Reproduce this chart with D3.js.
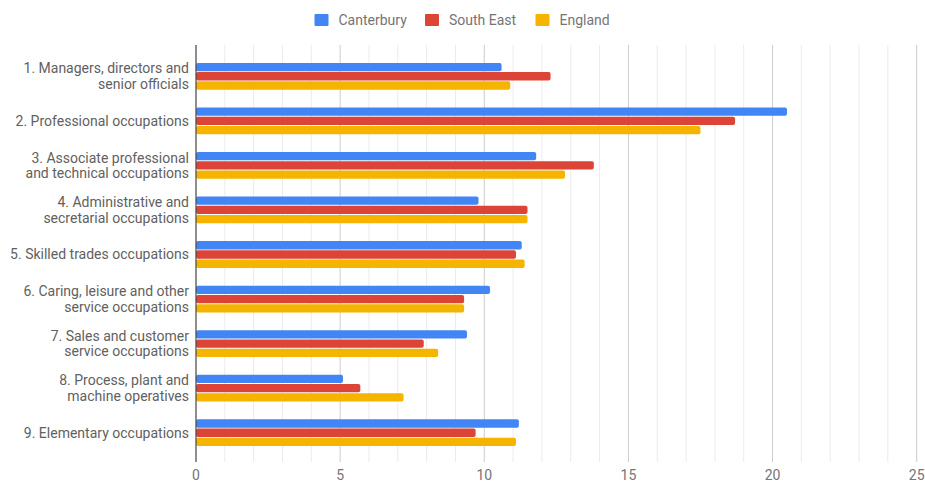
<!DOCTYPE html>
<html>
<head>
<meta charset="utf-8">
<script src="https://cdn.jsdelivr.net/npm/d3@7"></script>
<style>
  body { margin: 0; background: #fff; }
  text { font-family: Roboto, "Noto Sans", sans-serif; }
</style>
</head>
<body>
<div id="chart"></div>
<script>
//Chart data
var categories = [
    ["1. Managers, directors and", "senior officials"],
    ["2. Professional occupations"],
    ["3. Associate professional", "and technical occupations"],
    ["4. Administrative and", "secretarial occupations"],
    ["5. Skilled trades occupations"],
    ["6. Caring, leisure and other", "service occupations"],
    ["7. Sales and customer", "service occupations"],
    ["8. Process, plant and", "machine operatives"],
    ["9. Elementary occupations"]
];
var series = ["Canterbury", "South East", "England"];
var colors = ["#4285f4", "#db4437", "#f4b400"];
var canterbury = [10.6, 20.5, 11.8, 9.8, 11.3, 10.2, 9.4, 5.1, 11.2];
var southEast = [12.3, 18.7, 13.8, 11.5, 11.1, 9.3, 7.9, 5.7, 9.7];
var england = [10.9, 17.5, 12.8, 11.5, 11.4, 9.3, 8.4, 7.2, 11.1];
var xTicks = [0, 5, 10, 15, 20, 25];

var values = [canterbury, southEast, england];

//Dimensions
var width = 925, height = 482;
var plotLeft = 196, plotRight = 916.7;
var plotTop = 45, plotBottom = 462;

var svg = d3.select("#chart")
    .append("svg")
    .attr("width", width)
    .attr("height", height);

var x = d3.scaleLinear()
    .domain([0, 25])
    .range([plotLeft, plotRight]);

var y = d3.scaleBand()
    .domain(d3.range(categories.length))
    .range([54, 455]);

var ySub = d3.scaleBand()
    .domain(d3.range(series.length))
    .range([-13.4, 13.4])
    .paddingInner(0.1);

//Gridlines
svg.append("g")
    .selectAll("line")
    .data(d3.range(1, 26))
    .enter()
    .append("line")
    .attr("x1", d => x(d))
    .attr("x2", d => x(d))
    .attr("y1", plotTop)
    .attr("y2", plotBottom)
    .attr("stroke", d => d % 5 == 0 ? "#cccccc" : "#ebebeb")
    .attr("stroke-width", 1);

//Bars
var groups = svg.append("g")
    .selectAll("g")
    .data(categories)
    .enter()
    .append("g")
    .attr("transform", (d, i) => "translate(0," + (y(i) + y.bandwidth() / 2) + ")");

groups.selectAll("rect")
    .data((d, i) => values.map((v, s) => ({ s: s, v: v[i] })))
    .enter()
    .append("rect")
    .attr("x", x(0))
    .attr("y", d => ySub(d.s))
    .attr("width", d => x(d.v) - x(0))
    .attr("height", ySub.bandwidth())
    .attr("rx", 2)
    .attr("fill", d => colors[d.s]);

//Category labels
groups.append("text")
    .attr("text-anchor", "end")
    .attr("x", 189)
    .attr("fill", "#616161")
    .style("font-size", "14px")
    .each(function(d) {
        var t = d3.select(this);
        var lh = 15.5;
        var y0 = -(d.length - 1) * lh / 2;
        d.forEach(function(line, k) {
            t.append("tspan")
                .attr("x", 189)
                .attr("y", y0 + k * lh)
                .attr("dy", "0.35em")
                .text(line);
        });
    });

//Zero axis line
svg.append("line")
    .attr("x1", x(0))
    .attr("x2", x(0))
    .attr("y1", plotTop)
    .attr("y2", plotBottom)
    .attr("stroke", "#444444")
    .attr("stroke-width", 1.2);

//Tick labels
svg.append("g")
    .selectAll("text")
    .data(xTicks)
    .enter()
    .append("text")
    .attr("x", d => x(d))
    .attr("y", 480)
    .attr("text-anchor", "middle")
    .attr("fill", "#757575")
    .style("font-size", "14px")
    .text(d => d);

//Legend
var legendX = [314.5, 425, 535.5];
var legend = svg.append("g")
    .selectAll("g")
    .data(series)
    .enter()
    .append("g")
    .attr("transform", (d, i) => "translate(" + legendX[i] + ",14)");

legend.append("rect")
    .attr("width", 14)
    .attr("height", 12)
    .attr("rx", 1)
    .attr("fill", (d, i) => colors[i]);

legend.append("text")
    .attr("x", 24)
    .attr("y", 6)
    .attr("dy", "0.35em")
    .attr("fill", "#757575")
    .style("font-size", "14px")
    .text(d => d);
</script>
</body>
</html>
